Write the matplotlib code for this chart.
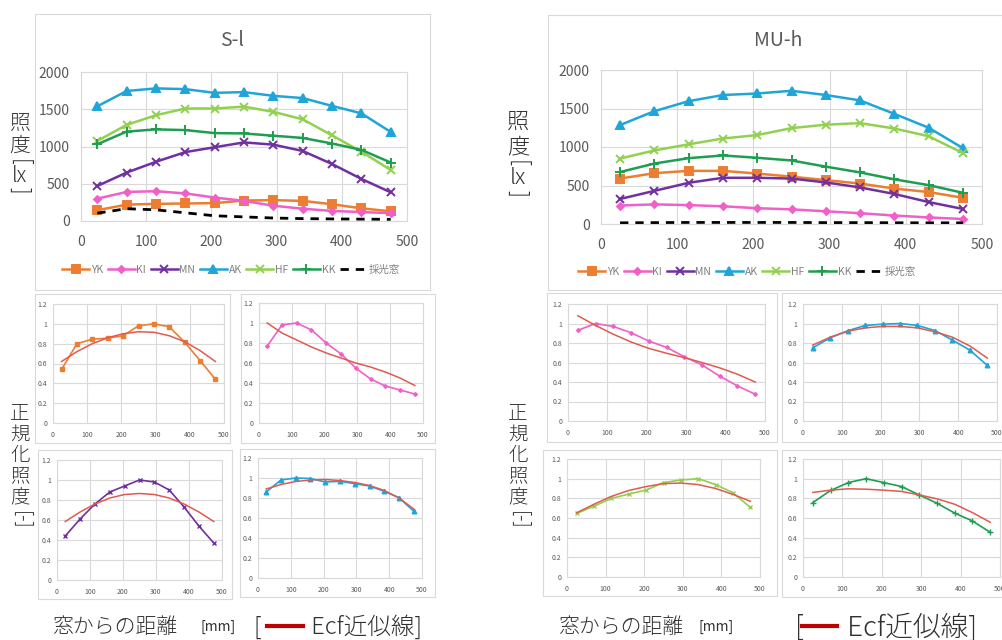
import matplotlib.pyplot as plt
from matplotlib.patches import Rectangle

plt.rcParams['font.family'] = ['Noto Sans CJK JP', 'DejaVu Sans']

W, H = 1002, 640

dist = [25, 70, 115, 160, 205, 250, 295, 340, 385, 430, 475]
series_names = ['YK', 'KI', 'MN', 'AK', 'HF', 'KK', '採光窓']

# S-l illuminance [lx]
sl_yk = [145, 220, 230, 235, 240, 275, 280, 270, 225, 170, 130]
sl_ki = [300, 390, 400, 370, 315, 270, 205, 165, 135, 120, 105]
sl_mn = [470, 650, 795, 925, 990, 1055, 1025, 940, 765, 565, 385]
sl_ak = [1540, 1745, 1780, 1770, 1720, 1730, 1680, 1650, 1545, 1445, 1195]
sl_hf = [1075, 1290, 1420, 1510, 1510, 1535, 1465, 1365, 1150, 930, 685]
sl_kk = [1030, 1200, 1230, 1220, 1180, 1175, 1145, 1115, 1040, 955, 785]
sl_win = [105, 165, 150, 110, 70, 55, 40, 32, 28, 25, 22]

# MU-h illuminance [lx]
mu_yk = [590, 660, 690, 690, 655, 615, 570, 525, 460, 415, 340]
mu_ki = [240, 255, 245, 230, 205, 190, 165, 140, 110, 85, 65]
mu_mn = [325, 430, 535, 600, 600, 590, 540, 475, 390, 285, 195]
mu_ak = [1285, 1465, 1595, 1675, 1695, 1730, 1675, 1605, 1430, 1250, 985]
mu_hf = [850, 955, 1035, 1110, 1155, 1245, 1290, 1310, 1240, 1140, 920]
mu_kk = [675, 785, 855, 890, 860, 825, 745, 670, 580, 505, 405]
mu_win = [15, 18, 20, 20, 20, 20, 18, 18, 16, 15, 15]

# normalized illuminance and Ecf fit curves
n_sl_yk = [0.54, 0.80, 0.845, 0.855, 0.88, 0.98, 1.0, 0.97, 0.815, 0.63, 0.44]
f_sl_yk = [0.62, 0.72, 0.80, 0.86, 0.90, 0.92, 0.915, 0.88, 0.82, 0.73, 0.62]
n_sl_ki = [0.77, 0.98, 1.0, 0.93, 0.80, 0.69, 0.55, 0.44, 0.37, 0.33, 0.29]
f_sl_ki = [1.0, 0.90, 0.83, 0.76, 0.70, 0.65, 0.60, 0.56, 0.51, 0.45, 0.375]
n_sl_mn = [0.44, 0.61, 0.76, 0.88, 0.94, 1.0, 0.98, 0.90, 0.73, 0.54, 0.37]
f_sl_mn = [0.585, 0.68, 0.76, 0.82, 0.855, 0.865, 0.855, 0.82, 0.76, 0.68, 0.585]
n_sl_ak = [0.86, 0.98, 1.0, 0.995, 0.96, 0.967, 0.943, 0.92, 0.867, 0.803, 0.667]
f_sl_ak = [0.89, 0.935, 0.965, 0.98, 0.985, 0.975, 0.955, 0.925, 0.875, 0.80, 0.69]

n_mu_ki = [0.93, 1.0, 0.97, 0.905, 0.82, 0.755, 0.66, 0.575, 0.46, 0.36, 0.275]
f_mu_ki = [1.08, 0.98, 0.89, 0.81, 0.745, 0.695, 0.65, 0.60, 0.545, 0.48, 0.40]
n_mu_ak = [0.75, 0.853, 0.925, 0.98, 0.993, 1.0, 0.98, 0.928, 0.83, 0.727, 0.57]
f_mu_ak = [0.778, 0.86, 0.92, 0.955, 0.97, 0.97, 0.955, 0.915, 0.86, 0.77, 0.645]
n_mu_hf = [0.646, 0.72, 0.80, 0.843, 0.884, 0.96, 0.986, 1.0, 0.94, 0.857, 0.707]
f_mu_hf = [0.653, 0.74, 0.82, 0.88, 0.92, 0.95, 0.955, 0.94, 0.90, 0.84, 0.77]
n_mu_kk = [0.757, 0.88, 0.96, 1.0, 0.96, 0.92, 0.835, 0.75, 0.65, 0.57, 0.455]
f_mu_kk = [0.86, 0.883, 0.897, 0.893, 0.883, 0.87, 0.835, 0.795, 0.74, 0.655, 0.557]

colors = {'YK': '#ED7D31', 'KI': '#F060C8', 'MN': '#7030A0', 'AK': '#1FA5D8',
          'HF': '#92D050', 'KK': '#1E9E50', '採光窓': 'black'}
markers = {'YK': 's', 'KI': 'D', 'MN': 'x', 'AK': '^', 'HF': 'x', 'KK': '+', '採光窓': None}
msize = {'YK': 6, 'KI': 3.5, 'MN': 6, 'AK': 6, 'HF': 6, 'KK': 7, '採光窓': 0}
fit_color = '#E05A50'
grey = '#595959'
gridc = '#D9D9D9'
textc = '#303030'

fig = plt.figure(figsize=(W / 100, H / 100), dpi=100)


def rect(x0, y0, x1, y1):
    return [x0 / W, 1 - y1 / H, (x1 - x0) / W, (y1 - y0) / H]


def fx(x):
    return x / W


def fy(y):
    return 1 - y / H


def box(x0, y0, x1, y1):
    fig.patches.append(Rectangle((x0 / W, 1 - y1 / H), (x1 - x0) / W, (y1 - y0) / H,
                                 transform=fig.transFigure, facecolor='white',
                                 edgecolor=gridc, lw=0.8, zorder=-5))


def style_axes(ax, ymax, yticks, ylabels, fs, xpad, ypad):
    ax.set_xlim(0, 500)
    ax.set_ylim(0, ymax)
    ax.set_xticks([0, 100, 200, 300, 400, 500])
    ax.set_yticks(yticks)
    ax.set_yticklabels(ylabels)
    ax.grid(True, color=gridc, lw=0.8)
    ax.set_axisbelow(True)
    for s in ax.spines.values():
        s.set_color(gridc)
        s.set_linewidth(0.8)
    ax.tick_params(length=0, labelsize=fs, colors=grey)
    ax.tick_params(axis='x', pad=xpad)
    ax.tick_params(axis='y', pad=ypad)
    ax.set_facecolor('none')


def big_chart(plot_rect, title, title_xy, data, legend_xy):
    ax = fig.add_axes(rect(*plot_rect))
    style_axes(ax, 2000, [0, 500, 1000, 1500, 2000], ['0', '500', '1000', '1500', '2000'],
               10, 10, 8)
    for name, vals in zip(series_names, data):
        if name == '採光窓':
            ax.plot(dist, vals, color='black', lw=2, ls=(0, (3, 2.5)), label=name)
        else:
            ax.plot(dist, vals, color=colors[name], lw=1.8, marker=markers[name],
                    ms=msize[name], mew=1.4, label=name)
    fig.text(fx(title_xy[0]), fy(title_xy[1]), title, ha='center', va='center',
             fontsize=14, color=grey)
    ax.legend(loc='center left', bbox_to_anchor=(fx(legend_xy[0]), fy(legend_xy[1])),
              bbox_transform=fig.transFigure, ncol=7, frameon=False, fontsize=7.5,
              handlelength=2.6, handletextpad=0.15, columnspacing=0.45, labelcolor='#808080',
              borderaxespad=0, borderpad=0)


def small_chart(plot_rect, name, vals, fit):
    ax = fig.add_axes(rect(*plot_rect))
    style_axes(ax, 1.2, [0, 0.2, 0.4, 0.6, 0.8, 1.0, 1.2],
               ['0', '0.2', '0.4', '0.6', '0.8', '1', '1.2'], 5, 5.5, 4)
    ax.plot(dist, vals, color=colors[name], lw=1.2, marker=markers[name],
            ms=msize[name] * 0.55, mew=1.0, zorder=3)
    ax.plot(dist, fit, color=fit_color, lw=1.1, zorder=4)


def vlabel(x, ys, chars, size):
    for y, c in zip(ys, chars):
        rot = -90 if c in ('[', ']', '[-]') else 0
        fig.text(fx(x), fy(y), c, ha='center', va='center', fontsize=size,
                 rotation=rot, rotation_mode='anchor', color=textc, fontweight='light')


# chart area boxes
box(35, 14, 430, 290)
box(548, 15, 1002, 290)
box(35, 294, 230, 443)
box(241, 294, 435, 443)
box(547, 293, 777, 442)
box(782, 293, 1002, 442)
box(38, 450, 232, 599)
box(240, 449, 435, 597)
box(543, 450, 777, 596)
box(782, 450, 1002, 597)

big_chart((81, 72, 407, 221), 'S-l', (232, 40),
          [sl_yk, sl_ki, sl_mn, sl_ak, sl_hf, sl_kk, sl_win], (62, 270))
big_chart((601, 70, 982, 224), 'MU-h', (778, 40),
          [mu_yk, mu_ki, mu_mn, mu_ak, mu_hf, mu_kk, mu_win], (578, 272))

small_chart((53, 304, 224, 423), 'YK', n_sl_yk, f_sl_yk)
small_chart((259, 303, 423, 423), 'KI', n_sl_ki, f_sl_ki)
small_chart((57, 460, 222, 580), 'MN', n_sl_mn, f_sl_mn)
small_chart((258, 458, 422, 578), 'AK', n_sl_ak, f_sl_ak)
small_chart((568, 304, 765, 421), 'KI', n_mu_ki, f_mu_ki)
small_chart((803, 304, 997, 421), 'AK', n_mu_ak, f_mu_ak)
small_chart((567, 459, 760, 577), 'HF', n_mu_hf, f_mu_hf)
small_chart((803, 459, 1000, 577), 'KK', n_mu_kk, f_mu_kk)

# y labels
vlabel(20, [123, 146, 162, 176, 190], ['照', '度', '[', 'lx', ']'], 15)
vlabel(518, [123, 147, 163, 178, 194], ['照', '度', '[', 'lx', ']'], 16)
for xl in (20, 518):
    vlabel(xl, [414, 434, 455, 476, 497, 520], ['正', '規', '化', '照', '度', '[-]'], 14)

# bottom labels: (text x, [mm] x, bracket x, red line x0, x1, Ecf x, Ecf size)
for x0, xm, xb, xl0, xl1, xe, fs in [(52, 200, 254, 267, 303, 306, 17),
                                     (558, 698, 795, 802, 837, 841, 20)]:
    fig.text(fx(x0), fy(627), '窓からの距離', ha='left', va='center', fontsize=15,
             color=textc, fontweight='light')
    fig.text(fx(xm), fy(627), '[mm]', ha='left', va='center', fontsize=10, color=textc)
    fig.text(fx(xb), fy(627), '[', ha='left', va='center', fontsize=fs, color=textc,
             fontweight='light')
    fig.add_artist(plt.Line2D([fx(xl0), fx(xl1)], [fy(626), fy(626)], color='#C00000', lw=3))
    fig.text(fx(xe), fy(627), ' Ecf近似線]', ha='left', va='center', fontsize=fs,
             color=textc, fontweight='light')

fig.savefig('out.png', dpi=100, facecolor='white')
